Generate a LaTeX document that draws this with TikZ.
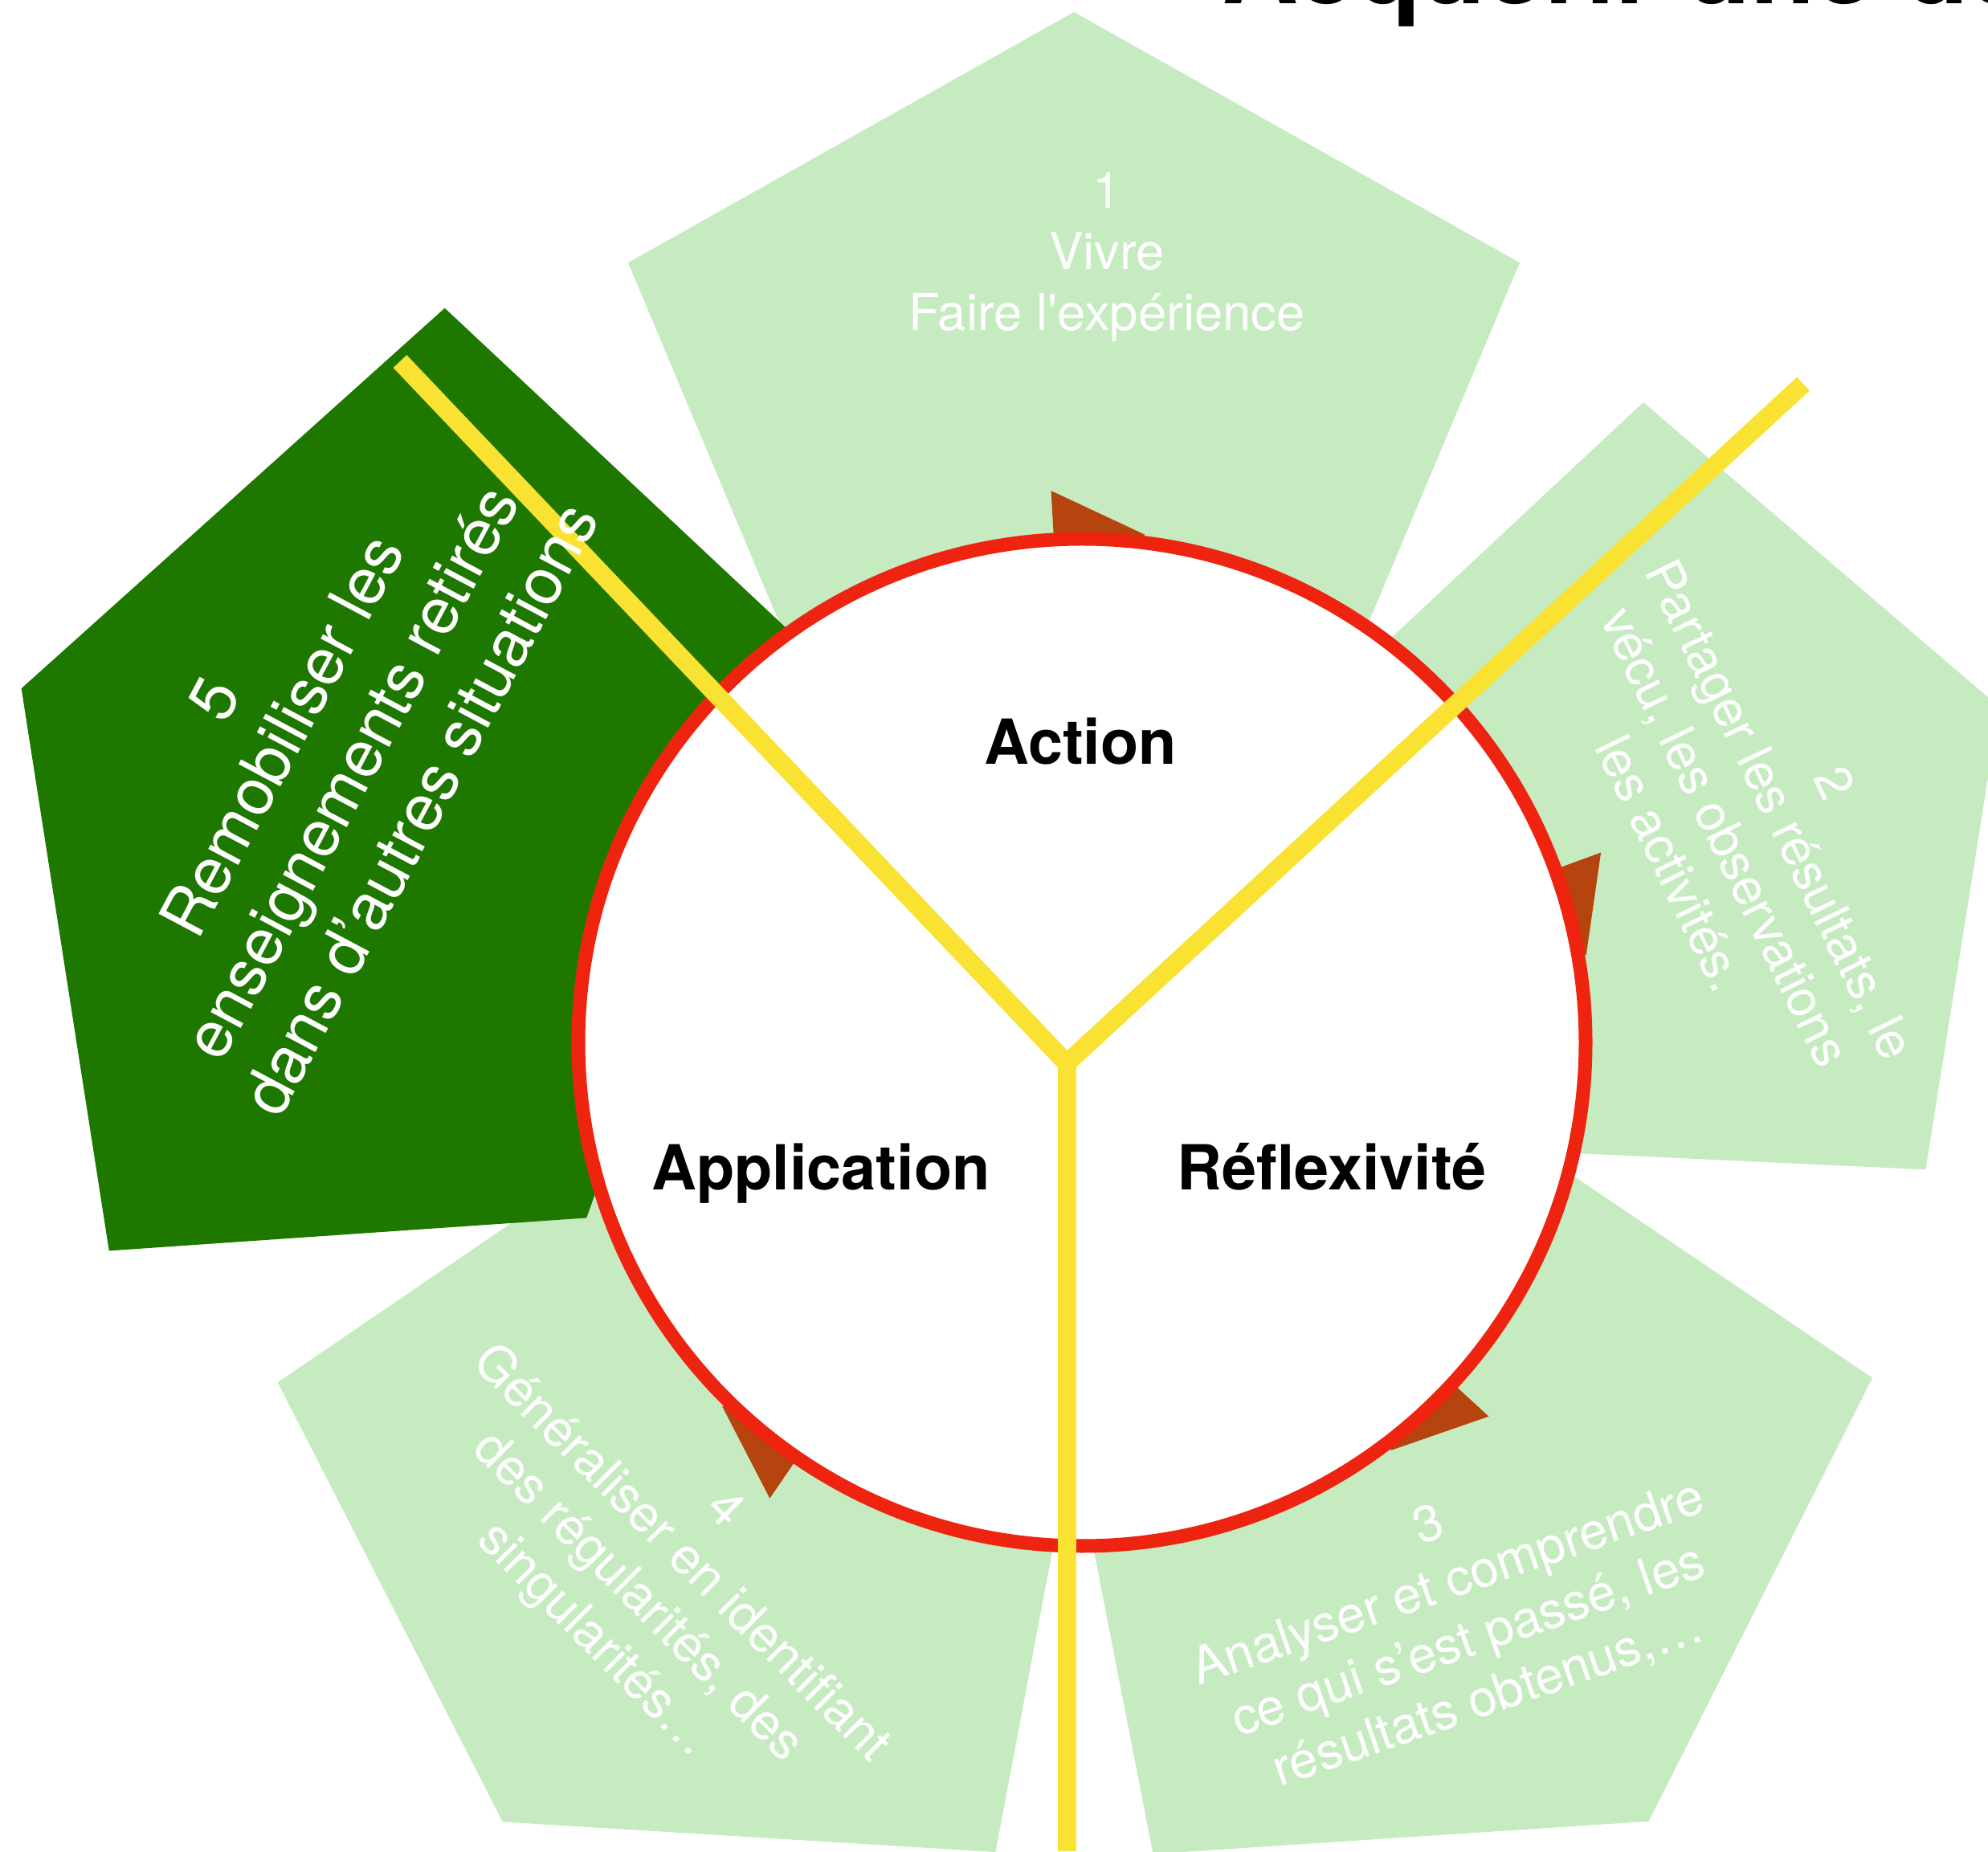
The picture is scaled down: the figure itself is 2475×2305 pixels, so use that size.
\documentclass[tikz,border=0pt]{standalone}
\usepackage{fontspec}
\setmainfont{TeX Gyre Heros}
\usepackage{xcolor}
\usetikzlibrary{calc}
\definecolor{petale}{RGB}{198, 235, 193}
\definecolor{petalefonce}{RGB}{30, 120, 0}
\definecolor{anneau}{RGB}{238, 36, 16}
\definecolor{rayon}{RGB}{249, 226, 50}
\definecolor{pointe}{RGB}{181, 68, 14}
\newcommand{\petale}[6]{%
  \fill[#6, shift={(#1,#2)}, rotate=#3]
    (0,#5/2) -- (#4/2,0.118*#5) -- (0.309*#4,-#5/2) -- (-0.309*#4,-#5/2) -- (-#4/2,0.118*#5) -- cycle;}

\tikzset{
  etape/.style={text=white, align=center, inner sep=0pt, font=\fontsize{18}{21.6}\selectfont},
  phase/.style={text=black, anchor=base, font=\fontsize{22}{26.4}\selectfont\bfseries},
  bras/.style={draw=rayon, line width=0.23cm, line cap=butt}
}

\begin{document}
\begin{tikzpicture}[x=0.01cm, y=0.01cm]
                \useasboundingbox (0,0) rectangle (2475,2305);
                \coordinate (centre) at (1347,1007);
                \coordinate (hub) at (1328,981);
                \coordinate (bout-gauche) at (498,1855);
                \coordinate (bout-droit) at (2245,1827);
                \coordinate (bout-bas) at (1328,0);

                \petale{1337}{1881.5}{0}{1110}{817}{petale}
                \petale{2139}{1296}{-69.8}{1018}{746}{petale}
                \petale{1831}{372}{-146.5}{1074}{803}{petale}
                \petale{844}{370}{146.8}{1068}{797}{petale}
                \petale{443}{1299.5}{70.4}{1246}{884}{petalefonce}

                \foreach \a in {93.2,20.1,-42.6,-124.4}
                    \fill[pointe] ($(centre)+(\a:688)$) -- ($(centre)+(\a-10.3:637)$) -- ($(centre)+(\a:582)$) -- cycle;

                \draw[anneau, fill=white, line width=0.17cm] (centre) circle[radius=627];

                \draw[bras] (hub) -- (bout-gauche);
                \draw[bras] (hub) -- (bout-droit);
                \draw[bras] (hub) -- (bout-bas);

                \node[etape] (etape1) at (1378,1985) {1\\Vivre\\Faire l\textquotesingle expérience};
                \node[etape, rotate=-64] (etape2) at (2182,1280) {2\\Partager les résultats, le\\vécu, les observations\\les activités.};
                \node[etape, rotate=19] (etape3) at (1816,296) {3\\Analyser et comprendre\\ce qui s’est passé, les\\résultats obtenus,…};
                \node[etape, rotate=-45] (etape4) at (819,342) {4\\Généraliser en identifiant\\des régularités, des\\singularités…};
                \node[etape, rotate=62, font=\fontsize{23}{27.6}\selectfont] (etape5) at (395,1366) {5\\Remobiliser les\\enseignements retirés\\dans d’autres situations};

                \node[phase] (action) at (1345,1353) {Action};
                \node[phase] (application) at (1022,823) {Application};
                \node[phase] (reflexivite) at (1658,823) {Réflexivité};

                \node[anchor=base west, inner sep=0pt, font=\fontsize{37.5}{45}\selectfont\bfseries] (titre) at (1521,2300) {Acquérir une dé};
            \end{tikzpicture}
\end{document}
